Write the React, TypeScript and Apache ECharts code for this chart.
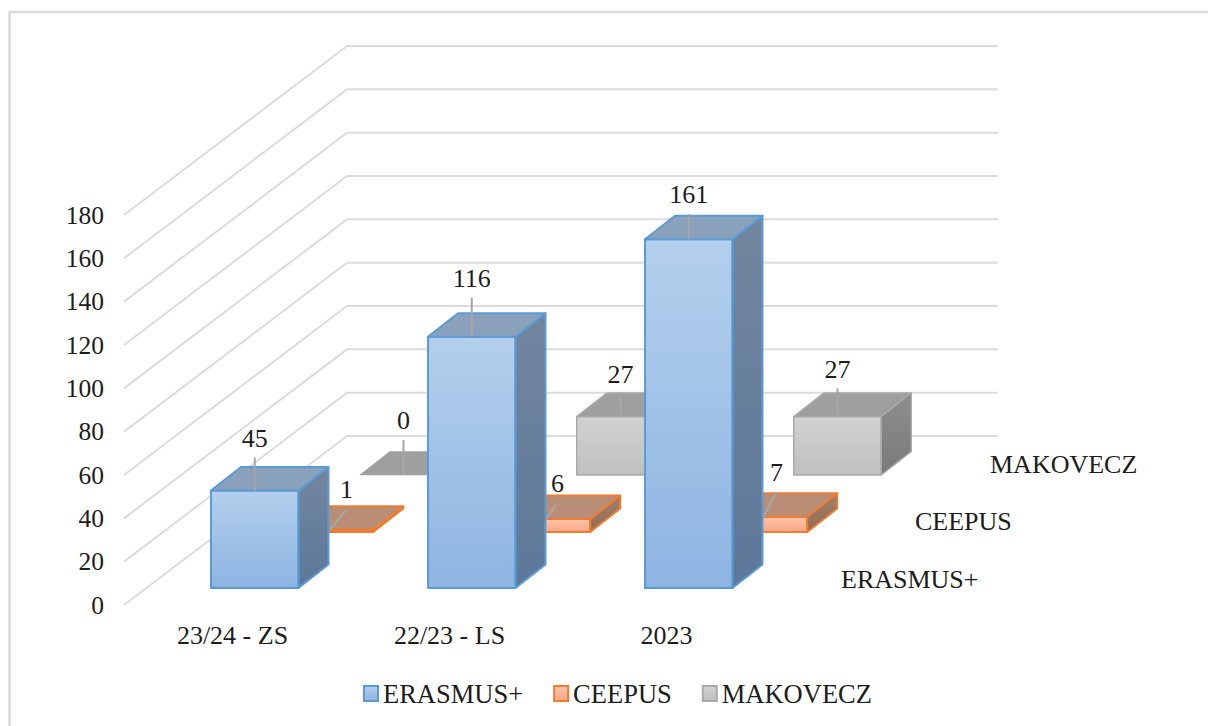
import React, { useEffect, useRef } from "react";
import * as echarts from "echarts";

const categories = ["23/24 - ZS", "22/23 - LS", "2023"];
const yTicks = [0, 20, 40, 60, 80, 100, 120, 140, 160, 180];
const erasmus = [45, 116, 161];
const ceepus = [1, 6, 7];
const makovecz = [0, 27, 27];
const legendNames = ["ERASMUS+", "CEEPUS", "MAKOVECZ"];

const FONT = "'Liberation Serif', 'Times New Roman', serif";
const TEXT = "#1c1c1c";
const vgrad = (a: string, b: string) => new echarts.graphic.LinearGradient(0, 0, 0, 1, [
  { offset: 0, color: a },
  { offset: 1, color: b },
]);

// Perspective of the fake-3D wall and bar rows, in pixels relative to the front plane.
const WALL_DX = 223;
const WALL_DY = -169;
const WALL_END_X = 998;
const BAR_RATIO = 0.403;
const BAR_DX = 30;
const BAR_DY = -23.5;
const ROW_OFFSETS = [
  [22.25, -17],
  [97, -73],
  [171, -130],
];
// Per-point leader end and label centre, relative to the bar's top front-centre.
const ERASMUS_LEADERS = [[0, -33, 0, -52], [0, -39, 0, -58], [0, -25, 0, -45]];
const CEEPUS_LEADERS = [[17, -20, 17, -40], [10, -15, 11, -36], [13, -25, 13, -44]];
const MAKOVECZ_LEADERS = [[0, -35, 0, -55], [0, -24, 0, -42], [0, -28, 0, -47]];
const DEPTH_LABEL_X = [841, 915, 990];
const DEPTH_LABEL_Y = [579, 521, 464];

const STYLES = [
  {
    border: "#5b9bd5",
    front: vgrad("#b3cfec", "#8eb4e2"),
    top: "#8aa1bb",
    side: vgrad("#73869e", "#5c7899"),
    flat: "#8aa1bb",
    lw: 2,
  },
  {
    border: "#ed7d31",
    front: vgrad("#fcc4a8", "#f8a784"),
    top: "#ba8e76",
    side: vgrad("#a17d68", "#946c55"),
    flat: "#ba8e76",
    lw: 2,
  },
  {
    border: "#a9a9a9",
    front: vgrad("#d2d2d2", "#bfbfbf"),
    top: "#9f9f9f",
    side: vgrad("#8e8e8e", "#7a7a7a"),
    flat: "#9f9f9f",
    lw: 1.5,
  },
];

function barSeries(name: string, values: number[], row: number, leaders: number[][], z: number) {
  const st = STYLES[row];
  return {
    name,
    type: "custom",
    coordinateSystem: "cartesian2d",
    z,
    silent: true,
    itemStyle: { color: st.border },
    encode: { x: 0, y: 1 },
    data: values.map((v, i) => [i, v]),
    renderItem: (params: any, api: any) => {
      const i = api.value(0);
      const v = api.value(1);
      const base = api.coord([i, 0]);
      const topPt = api.coord([i, v]);
      const w = api.size([1, 0])[0] * BAR_RATIO;
      const [ox, oy] = ROW_OFFSETS[row];
      const x0 = base[0] + ox - w / 2;
      const x1 = x0 + w;
      const yb = base[1] + oy;
      const yt = topPt[1] + oy;
      const p = (pts: number[][], fill: any, stroke: any, lw: number) => ({
        type: "polygon",
        shape: { points: pts },
        style: { fill, stroke, lineWidth: lw, lineJoin: "round" },
      });
      const children: any[] = [];
      const flat = v === 0;
      if (!flat) {
        children.push(
          p([[x0, yb], [x1, yb], [x1, yt], [x0, yt]], st.front, st.border, st.lw),
          p([[x1, yb], [x1 + BAR_DX, yb + BAR_DY], [x1 + BAR_DX, yt + BAR_DY], [x1, yt]], st.side, st.border, st.lw)
        );
      }
      children.push(
        p(
          [[x0, yt], [x1, yt], [x1 + BAR_DX, yt + BAR_DY], [x0 + BAR_DX, yt + BAR_DY]],
          flat ? st.flat : st.top,
          flat ? st.flat : st.border,
          flat ? 0.5 : st.lw
        )
      );
      const cx = (x0 + x1) / 2;
      const [ldx, ldy, tdx, tdy] = leaders[i];
      children.push({
        type: "line",
        shape: { x1: cx, y1: yt, x2: cx + ldx, y2: yt + ldy },
        style: { stroke: "#a6a6a6", lineWidth: 2 },
      });
      children.push({
        type: "text",
        style: {
          text: String(v),
          x: cx + tdx,
          y: yt + tdy,
          align: "center",
          verticalAlign: "middle",
          fontFamily: FONT,
          fontSize: 26,
          fill: TEXT,
        },
      });
      return { type: "group", children };
    },
  };
}

const wallSeries = {
  name: "wall",
  type: "custom",
  coordinateSystem: "cartesian2d",
  z: 1,
  silent: true,
  encode: { y: 1 },
  data: yTicks.map((t) => [0, t]),
  renderItem: (params: any, api: any) => {
    const y = api.coord([0, api.value(1)])[1];
    const x = params.coordSys.x;
    return {
      type: "polyline",
      shape: {
        points: [[x, y], [x + WALL_DX, y + WALL_DY], [WALL_END_X, y + WALL_DY]],
      },
      style: { fill: "none", stroke: "#dcdcdc", lineWidth: 2 },
    };
  },
};

export default function App() {
  const ref = useRef<HTMLDivElement>(null);
  useEffect(() => {
    const chart = echarts.init(ref.current!, null, { renderer: "svg" });
    chart.setOption({
      animation: false,
      backgroundColor: "#ffffff",
      grid: { left: 124, top: 215, width: 651, height: 390, containLabel: false },
      xAxis: {
        type: "category",
        data: categories,
        axisLine: { show: false },
        axisTick: { show: false },
        splitLine: { show: false },
        axisLabel: { fontFamily: FONT, fontSize: 26, color: TEXT, margin: 17 },
      },
      yAxis: {
        type: "value",
        min: 0,
        max: 180,
        interval: 20,
        axisLine: { show: false },
        axisTick: { show: false },
        splitLine: { show: false },
        axisLabel: { fontFamily: FONT, fontSize: 25.5, color: TEXT, margin: 20 },
      },
      legend: {
        left: 358,
        top: 675,
        icon: "rect",
        itemWidth: 14,
        itemHeight: 15,
        itemGap: 30,
        selectedMode: false,
        textStyle: { fontFamily: FONT, fontSize: 26.5, color: TEXT, padding: [0, 0, 0, 0] },
        data: legendNames.map((name, i) => ({
          name,
          itemStyle: {
            color: STYLES[i].front,
            borderColor: STYLES[i].border,
            borderWidth: 2,
          },
        })),
      },
      graphic: {
        elements: [
          {
            type: "polyline",
            silent: true,
            z: 0,
            shape: { points: [[9.5, 730], [9.5, 12], [1212, 12]] },
            style: { fill: "none", stroke: "#d9d9d9", lineWidth: 2.5 },
          },
          ...legendNames.map((name, i) => ({
            type: "text",
            silent: true,
            x: DEPTH_LABEL_X[i],
            y: DEPTH_LABEL_Y[i],
            style: {
              text: name,
              fontFamily: FONT,
              fontSize: 26,
              fill: TEXT,
              verticalAlign: "middle",
            },
          })),
        ],
      },
      series: [
        wallSeries,
        barSeries(legendNames[2], makovecz, 2, MAKOVECZ_LEADERS, 2),
        barSeries(legendNames[1], ceepus, 1, CEEPUS_LEADERS, 3),
        barSeries(legendNames[0], erasmus, 0, ERASMUS_LEADERS, 4),
      ],
    });
    return () => chart.dispose();
  }, []);
  return (
    <div
      ref={ref}
      style={{ position: "fixed", left: 0, top: 0, width: 1208, height: 726, overflow: "hidden" }}
    />
  );
}
